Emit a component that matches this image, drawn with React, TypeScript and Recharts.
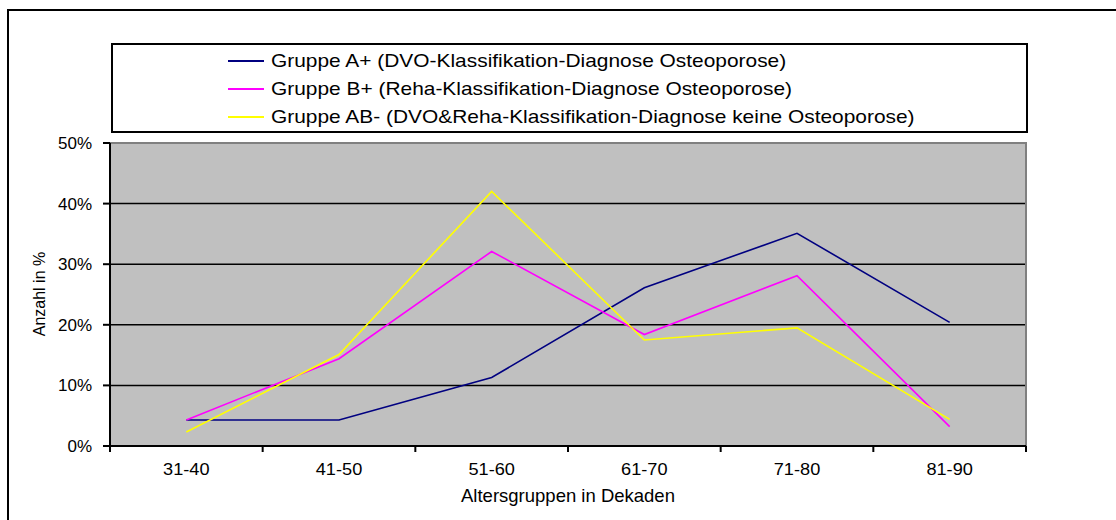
import React from "react";
import {
  LineChart, Line, XAxis, YAxis, CartesianGrid, ReferenceArea,
} from "recharts";

const categories = ["31-40", "41-50", "51-60", "61-70", "71-80", "81-90"];
const groupA = [4.3, 4.3, 11.3, 26.1, 35.1, 20.4];
const groupB = [4.3, 14.4, 32.1, 18.4, 28.1, 3.2];
const groupAB = [2.3, 15.1, 42.0, 17.5, 19.5, 4.4];
const yTicks = [0, 10, 20, 30, 40, 50];

const seriesNames = [
  "Gruppe A+ (DVO-Klassifikation-Diagnose Osteoporose)",
  "Gruppe B+ (Reha-Klassifikation-Diagnose Osteoporose)",
  "Gruppe AB- (DVO&Reha-Klassifikation-Diagnose keine Osteoporose)",
];
const seriesColors = ["#000080", "#FF00FF", "#FFFF00"];
const xTitle = "Altersgruppen in Dekaden";
const yTitle = "Anzahl in %";

const data = categories.map((cat, i) => ({
  cat,
  a: groupA[i],
  b: groupB[i],
  ab: groupAB[i],
}));

const W = 1116;
const H = 520;
const PLOT_L = 110;
const PLOT_R = 1026;
const PLOT_T = 143;
const PLOT_B = 446;
const BAND = (PLOT_R - PLOT_L) / categories.length;
const FONT = "'Liberation Sans', Arial, sans-serif";

function AgeTick(props: any) {
  const { x, payload, index } = props;
  const left = x - BAND / 2;
  return (
    <g>
      <line x1={left} x2={left} y1={PLOT_B} y2={PLOT_B + 6} stroke="#000" strokeWidth={2} />
      {index === categories.length - 1 && (
        <line x1={x + BAND / 2} x2={x + BAND / 2} y1={PLOT_B} y2={PLOT_B + 6} stroke="#000" strokeWidth={2} />
      )}
      <text
        x={x}
        y={PLOT_B + 29}
        textAnchor="middle"
        transform={`translate(${x},0) scale(1.07,1) translate(${-x},0)`}
        fontFamily={FONT}
        fontSize={17}
        fill="#000"
      >
        {payload.value}
      </text>
    </g>
  );
}

function ChartLegend() {
  return (
    <div
      style={{
        position: "absolute", left: 111, top: 43, width: 913, height: 86,
        border: "2px solid #000", background: "#fff", fontFamily: FONT,
        fontSize: 19, color: "#000",
      }}
    >
      {seriesNames.map((name, i) => (
        <div
          key={name}
          style={{ position: "absolute", left: 115, top: 3 + i * 28, height: 26, display: "flex", alignItems: "center", whiteSpace: "nowrap" }}
        >
          <span style={{ display: "inline-block", width: 36, height: 2, background: seriesColors[i], marginRight: 7 }} />
          <span style={{ display: "inline-block", transform: "scaleX(1.1)", transformOrigin: "left center" }}>{name}</span>
        </div>
      ))}
    </div>
  );
}

export default function App() {
  return (
    <div style={{ position: "absolute", left: 0, top: 0, width: W, height: H, overflow: "hidden", background: "#fff" }}>
      <div style={{ position: "absolute", left: 7, top: 9, width: W + 20, height: H + 20, border: "2px solid #000" }} />
      <div style={{ position: "absolute", left: 0, top: 0 }}>
        <LineChart
          width={W}
          height={H}
          data={data}
          margin={{ top: PLOT_T, right: W - PLOT_R, bottom: H - PLOT_B - 40, left: 40 }}
        >
          <CartesianGrid horizontal vertical={false} fill="#C0C0C0" stroke="#000" strokeWidth={1.5} />
          <ReferenceArea y1={0} y2={50} fill="none" stroke="#808080" strokeWidth={2} ifOverflow="extendDomain" />
          <XAxis
            dataKey="cat"
            scale="band"
            interval={0}
            height={40}
            tickLine={false}
            axisLine={{ stroke: "#000", strokeWidth: 2 }}
            tick={<AgeTick />}
            label={{
              content: () => (
                <text x={(PLOT_L + PLOT_R) / 2} y={502} textAnchor="middle" fontFamily={FONT} fontSize={18.5} fill="#000">
                  {xTitle}
                </text>
              ),
            }}
          />
          <YAxis
            width={70}
            domain={[0, 50]}
            ticks={yTicks}
            interval={0}
            tickFormatter={(v: number) => `${v}%`}
            tickSize={7}
            tickMargin={11}
            axisLine={{ stroke: "#000", strokeWidth: 2 }}
            tickLine={{ stroke: "#000", strokeWidth: 2 }}
            tick={{ fill: "#000", fontSize: 17, fontFamily: FONT }}
            label={{
              content: () => {
                const cy = 294;
                return (
                  <text x={39} y={cy} transform={`rotate(-90, 39, ${cy})`} textAnchor="middle" dominantBaseline="central" fontFamily={FONT} fontSize={16} fill="#000">
                    {yTitle}
                  </text>
                );
              },
            }}
          />
          <Line type="linear" dataKey="a" stroke={seriesColors[0]} strokeWidth={1.6} dot={false} isAnimationActive={false} />
          <Line type="linear" dataKey="b" stroke={seriesColors[1]} strokeWidth={1.6} dot={false} isAnimationActive={false} />
          <Line type="linear" dataKey="ab" stroke={seriesColors[2]} strokeWidth={1.6} dot={false} isAnimationActive={false} />
        </LineChart>
      </div>
      <ChartLegend />
    </div>
  );
}
